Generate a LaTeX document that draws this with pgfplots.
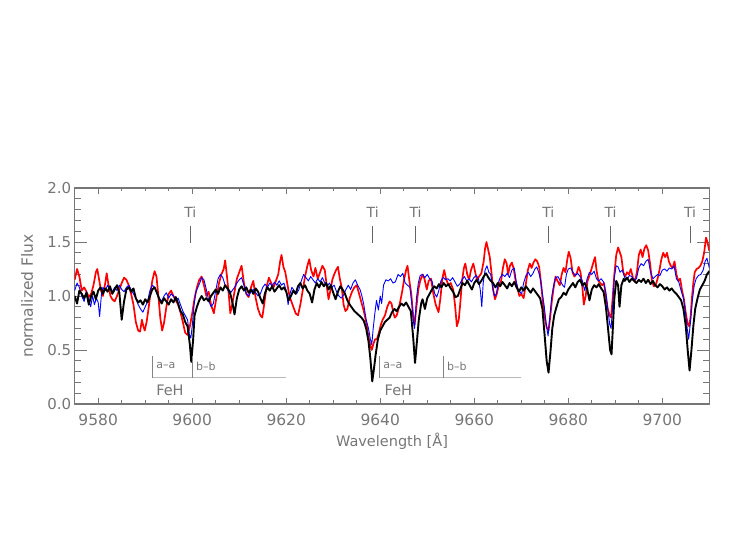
\documentclass[border=0pt]{standalone}
\usepackage{fontspec}
\setmainfont{DejaVu Sans}
\usepackage{pgfplots}
\pgfplotsset{compat=1.18}
\definecolor{axgray}{RGB}{118,118,118}
\definecolor{fehgray}{RGB}{185,185,185}
\definecolor{tigray}{RGB}{100,100,100}
\begin{document}
\begin{tikzpicture}
\path[use as bounding box] (0pt,0pt) rectangle (747pt,540pt);
% ---- y-axis ticks (long ticks) ----
\begin{axis}[
  at={(74.7pt,136pt)}, anchor=south west,
  width=634.6pt, height=216pt, scale only axis,
  xmin=9575, xmax=9710, ymin=0, ymax=2,
  xtick=\empty,
  ytick={0,0.5,1,1.5,2}, minor y tick num=4,
  major tick length=12.5pt, minor tick length=6.5pt,
  axis line style={draw=axgray, line width=1.1pt},
  tick style={draw=axgray, line width=0.8pt},
  tick label style={font=\fontsize{15}{18}\selectfont, text=axgray},
  yticklabel style={/pgf/number format/.cd,fixed,fixed zerofill,precision=1,assume math mode=true},
  ylabel={normalized Flux},
  ylabel style={at={(axis description cs:-0.0752,0.5)}, anchor=center, font=\fontsize{15.5}{18}\selectfont, text=axgray},
]
\end{axis}
% ---- data axis with x ticks ----
\begin{axis}[
  at={(74.7pt,136pt)}, anchor=south west,
  width=634.6pt, height=216pt, scale only axis,
  xmin=9575, xmax=9710, ymin=0, ymax=2,
  ytick=\empty,
  xtick={9580,9600,...,9700}, minor x tick num=3,
  major tick length=6pt, minor tick length=3.5pt,
  axis line style={draw=axgray, line width=1.1pt},
  tick style={draw=axgray, line width=0.8pt},
  tick label style={font=\fontsize{15.5}{18}\selectfont, text=axgray},
  xticklabel style={yshift=-6pt,/pgf/number format/.cd,1000 sep={},assume math mode=true},
  xlabel={Wavelength [Å]},
  xlabel style={at={(axis description cs:0.5,-0.171)}, anchor=center, font=\fontsize{14.5}{17}\selectfont, text=axgray},
]
% red
\addplot[red, line width=1.7pt, line join=round] coordinates {
(9575.0,1.15)(9575.5,1.25)(9576.0,1.18)(9576.5,1.05)(9577.0,1.08)(9577.5,1.04)(9578.0,0.99)(9578.5,1.02)(9579.0,1.10)(9579.5,1.22)
(9579.8,1.25)(9580.2,1.15)(9580.6,1.05)(9581.0,1.00)(9581.5,1.12)(9581.8,1.21)(9582.2,1.10)(9582.6,1.00)(9583.0,0.97)(9583.5,0.95)
(9584.0,1.00)(9584.5,1.06)(9585.0,1.12)(9585.5,1.17)(9586.0,1.15)(9586.5,1.10)(9587.0,1.02)(9587.5,0.92)(9588.0,0.76)(9588.5,0.68)
(9588.9,0.67)(9589.3,0.78)(9589.6,0.72)(9589.9,0.68)(9590.3,0.76)(9590.7,0.88)(9591.1,1.02)(9591.5,1.14)(9592.0,1.23)(9592.4,1.18)
(9592.8,1.00)(9593.2,0.80)(9593.6,0.68)(9594.0,0.75)(9594.5,0.90)(9595.0,1.02)(9595.5,1.05)(9596.0,1.00)(9596.5,0.96)(9597.0,0.92)
(9597.5,0.85)(9598.0,0.76)(9598.5,0.66)(9599.0,0.64)(9599.5,0.72)(9600.0,0.84)(9600.5,0.98)(9601.0,1.08)(9601.5,1.15)(9602.0,1.18)
(9602.5,1.10)(9603.0,1.00)(9603.5,1.04)(9604.0,0.92)(9604.6,0.84)(9605.2,1.00)(9605.7,1.12)(9606.2,1.20)(9606.7,1.25)(9607.0,1.33)
(9607.4,1.18)(9607.8,1.00)(9608.1,0.84)(9608.5,0.92)(9609.0,1.04)(9609.5,1.16)(9610.0,1.22)(9610.5,1.28)(9611.0,1.12)(9611.5,1.02)
(9612.0,0.99)(9612.5,1.08)(9613.0,1.14)(9613.5,0.98)(9614.0,0.88)(9614.5,0.82)(9614.9,0.80)(9615.3,0.92)(9615.8,1.08)(9616.3,1.17)
(9616.8,1.12)(9617.3,1.08)(9617.8,1.14)(9618.3,1.20)(9618.7,1.32)(9619.0,1.38)(9619.4,1.27)(9619.8,1.22)(9620.2,1.12)(9620.6,1.02)
(9621.0,0.96)(9621.5,0.90)(9622.0,0.84)(9622.5,0.82)(9623.0,0.92)(9623.5,1.05)(9624.0,1.18)(9624.5,1.28)(9624.9,1.34)(9625.3,1.24)
(9625.8,1.18)(9626.2,1.26)(9626.7,1.16)(9627.2,1.22)(9627.7,1.28)(9628.2,1.24)(9628.6,1.10)(9629.0,0.97)(9629.4,1.05)(9629.8,1.15)
(9630.2,1.20)(9630.6,1.24)(9631.0,1.27)(9631.4,1.16)(9631.8,1.08)(9632.2,0.92)(9632.6,0.86)(9633.0,0.88)(9633.5,0.98)(9634.0,1.04)
(9634.5,1.08)(9635.0,1.10)(9635.5,1.02)(9636.0,0.94)(9636.5,0.86)(9637.0,0.76)(9637.5,0.62)(9637.9,0.54)(9638.2,0.50)(9638.5,0.55)
(9638.9,0.60)(9639.3,0.60)(9639.7,0.66)(9640.1,0.73)(9640.5,0.78)(9641.0,0.82)(9641.5,0.90)(9642.0,0.95)(9642.4,0.93)(9642.8,0.84)
(9643.1,0.80)(9643.5,0.82)(9643.9,0.88)(9644.3,0.96)(9644.7,1.05)(9645.1,1.16)(9645.5,1.24)(9645.8,1.28)(9646.2,1.14)(9646.6,1.02)
(9647.0,0.82)(9647.3,0.73)(9647.7,0.90)(9648.1,1.06)(9648.5,1.14)(9649.0,1.20)(9649.4,1.16)(9649.9,1.06)(9650.3,1.14)(9650.8,1.16)
(9651.3,1.02)(9651.8,0.92)(9652.4,0.85)(9652.8,0.98)(9653.2,1.16)(9653.6,1.24)(9654.0,1.16)(9654.5,1.10)(9655.0,1.12)(9655.5,1.06)
(9655.9,0.92)(9656.3,0.72)(9656.7,0.78)(9657.0,0.92)(9657.4,1.14)(9657.8,1.26)(9658.1,1.30)(9658.5,1.20)(9658.9,1.15)(9659.3,1.24)
(9659.8,1.30)(9660.2,1.22)(9660.6,1.14)(9661.0,1.18)(9661.5,1.21)(9662.0,1.32)(9662.3,1.44)(9662.6,1.50)(9663.0,1.42)(9663.3,1.36)
(9663.7,1.20)(9664.0,1.06)(9664.4,0.97)(9664.8,1.02)(9665.2,1.10)(9665.7,1.14)(9666.1,1.26)(9666.5,1.34)(9666.9,1.30)(9667.2,1.20)
(9667.6,1.28)(9668.0,1.31)(9668.4,1.25)(9668.8,1.14)(9669.2,1.07)(9669.6,1.00)(9670.0,1.02)(9670.5,0.98)(9671.0,1.12)(9671.4,1.24)
(9671.8,1.30)(9672.2,1.26)(9672.6,1.31)(9673.0,1.34)(9673.4,1.32)(9673.8,1.27)(9674.2,1.12)(9674.6,0.94)(9675.0,0.80)(9675.4,0.71)
(9675.8,0.68)(9676.1,0.78)(9676.5,0.95)(9676.9,1.08)(9677.3,1.18)(9677.7,1.14)(9678.2,1.10)(9678.6,1.20)(9679.0,1.26)(9679.4,1.22)
(9679.8,1.34)(9680.1,1.41)(9680.5,1.35)(9680.9,1.22)(9681.3,1.18)(9681.8,1.21)(9682.2,1.27)(9682.6,1.22)(9683.0,1.08)(9683.3,0.92)
(9683.7,1.00)(9684.1,1.14)(9684.6,1.20)(9685.0,1.26)(9685.4,1.32)(9685.7,1.36)(9686.0,1.24)(9686.4,1.14)(9686.8,1.12)(9687.2,1.10)
(9687.6,1.12)(9688.0,1.00)(9688.4,0.88)(9688.8,0.82)(9689.1,0.80)(9689.4,0.96)(9689.8,1.20)(9690.2,1.38)(9690.6,1.45)(9691.0,1.40)
(9691.3,1.36)(9691.7,1.22)(9692.1,1.18)(9692.5,1.22)(9692.9,1.20)(9693.3,1.25)(9693.8,1.16)(9694.2,1.14)(9694.6,1.22)(9695.0,1.38)
(9695.4,1.43)(9695.8,1.36)(9696.2,1.44)(9696.6,1.47)(9697.0,1.42)(9697.4,1.30)(9697.8,1.14)(9698.2,1.09)(9698.6,1.10)(9699.0,1.16)
(9699.4,1.24)(9699.8,1.34)(9700.2,1.40)(9700.6,1.36)(9701.0,1.40)(9701.4,1.32)(9701.8,1.28)(9702.2,1.26)(9702.6,1.32)(9703.0,1.20)
(9703.4,1.14)(9703.8,1.16)(9704.2,1.05)(9704.6,0.97)(9705.0,0.84)(9705.4,0.74)(9705.7,0.72)(9706.0,0.80)(9706.3,0.98)(9706.6,1.12)
(9706.9,1.22)(9707.3,1.25)(9707.7,1.26)(9708.1,1.28)(9708.5,1.32)(9708.9,1.40)(9709.3,1.54)(9709.6,1.50)(9710.0,1.42)
};
% blue
\addplot[blue, line width=0.9pt, line join=round] coordinates {
(9575.0,1.05)(9575.5,1.12)(9576.0,1.08)(9576.5,1.00)(9577.0,0.95)(9577.5,1.04)(9578.0,0.96)(9578.4,0.90)(9578.8,1.00)(9579.2,0.92)
(9579.6,0.98)(9580.0,0.94)(9580.3,0.81)(9580.7,1.02)(9581.0,1.08)(9581.5,1.05)(9582.0,1.10)(9582.5,1.06)(9583.0,1.04)(9583.5,1.08)
(9584.0,1.05)(9584.5,1.10)(9585.0,1.06)(9585.5,1.04)(9586.0,1.08)(9586.5,1.10)(9587.0,1.06)(9587.5,1.02)(9588.0,0.98)(9588.5,0.92)
(9589.0,0.88)(9589.5,0.85)(9590.0,0.90)(9590.5,0.95)(9591.0,1.05)(9591.5,1.10)(9592.0,1.08)(9592.5,1.02)(9593.0,0.98)(9593.5,0.95)
(9594.0,1.00)(9594.5,1.03)(9595.0,0.98)(9595.5,1.02)(9596.0,1.00)(9596.5,0.96)(9597.0,0.98)(9597.5,0.92)(9598.0,0.86)(9598.5,0.82)
(9599.0,0.78)(9599.4,0.64)(9599.7,0.61)(9600.0,0.72)(9600.4,0.92)(9600.8,1.04)(9601.2,1.08)(9601.6,1.12)(9602.0,1.17)(9602.5,1.15)
(9603.0,1.06)(9603.5,0.96)(9604.0,0.90)(9604.5,0.93)(9605.0,1.05)(9605.5,1.16)(9606.0,1.20)(9606.5,1.17)(9607.0,1.10)(9607.5,1.06)
(9608.0,1.02)(9608.5,1.05)(9609.0,1.08)(9609.5,1.12)(9610.0,1.15)(9610.5,1.17)(9611.0,1.10)(9611.5,1.02)(9612.0,1.00)(9612.5,1.04)
(9613.0,1.06)(9613.5,1.03)(9614.0,1.00)(9614.5,1.02)(9615.0,1.08)(9615.5,1.11)(9616.0,1.08)(9616.5,1.12)(9617.0,1.09)(9617.5,1.13)
(9618.0,1.10)(9618.5,1.14)(9619.0,1.10)(9619.5,1.12)(9620.0,1.05)(9620.4,0.92)(9620.8,1.02)(9621.2,1.08)(9621.7,1.05)(9622.2,1.02)
(9622.7,1.06)(9623.2,1.14)(9623.7,1.20)(9624.2,1.17)(9624.7,1.14)(9625.2,1.18)(9625.7,1.15)(9626.2,1.12)(9626.7,1.16)(9627.2,1.13)
(9627.7,1.17)(9628.2,1.12)(9628.7,1.09)(9629.2,1.12)(9629.7,1.08)(9630.2,1.10)(9630.7,1.04)(9631.2,1.00)(9631.7,0.98)(9632.2,1.01)
(9632.7,1.06)(9633.2,1.10)(9633.7,1.06)(9634.2,1.12)(9634.7,1.15)(9635.2,1.10)(9635.7,1.06)(9636.1,1.00)(9636.5,0.92)(9637.0,0.78)
(9637.5,0.70)(9637.9,0.60)(9638.2,0.55)(9638.5,0.70)(9638.8,0.82)(9639.2,0.96)(9639.6,0.87)(9640.0,1.00)(9640.3,0.93)(9640.7,1.10)
(9641.2,1.15)(9641.7,1.14)(9642.2,1.16)(9642.7,1.12)(9643.2,1.13)(9643.8,1.20)(9644.3,1.18)(9644.8,1.21)(9645.3,1.12)(9645.8,1.10)
(9646.3,1.08)(9646.7,0.94)(9647.0,0.78)(9647.3,0.70)(9647.7,0.98)(9648.1,1.12)(9648.5,1.19)(9649.0,1.20)(9649.5,1.17)(9650.0,1.20)
(9650.5,1.16)(9651.0,1.14)(9651.6,1.02)(9652.0,0.99)(9652.4,1.04)(9652.9,1.14)(9653.4,1.17)(9653.9,1.15)(9654.4,1.16)(9654.9,1.14)
(9655.4,1.17)(9655.9,1.13)(9656.4,1.09)(9656.9,1.11)(9657.4,1.15)(9657.9,1.18)(9658.4,1.14)(9658.9,1.16)(9659.4,1.13)(9659.9,1.17)
(9660.4,1.19)(9660.9,1.16)(9661.3,1.05)(9661.6,0.90)(9661.9,1.12)(9662.3,1.24)(9662.7,1.28)(9663.1,1.22)(9663.5,1.20)(9663.9,1.08)
(9664.3,1.00)(9664.7,1.02)(9665.1,1.12)(9665.5,1.17)(9666.0,1.20)(9666.5,1.18)(9667.0,1.21)(9667.5,1.17)(9668.0,1.24)(9668.5,1.26)
(9668.9,1.14)(9669.3,1.06)(9669.7,1.04)(9670.1,1.02)(9670.5,1.12)(9671.0,1.19)(9671.5,1.22)(9672.0,1.18)(9672.5,1.21)(9672.9,1.25)
(9673.3,1.27)(9673.7,1.22)(9674.1,1.15)(9674.5,1.02)(9674.9,0.90)(9675.3,0.74)(9675.7,0.63)(9676.1,0.82)(9676.5,1.00)(9676.9,1.10)
(9677.3,1.17)(9677.8,1.18)(9678.3,1.14)(9678.8,1.10)(9679.2,1.08)(9679.6,1.20)(9680.0,1.25)(9680.5,1.26)(9681.0,1.22)(9681.5,1.19)
(9682.0,1.21)(9682.5,1.18)(9683.0,1.14)(9683.5,1.05)(9684.0,1.16)(9684.5,1.22)(9685.0,1.20)(9685.5,1.23)(9686.0,1.16)(9686.5,1.14)
(9687.0,1.16)(9687.5,1.13)(9688.0,1.03)(9688.4,0.88)(9688.8,0.74)(9689.1,0.70)(9689.4,0.88)(9689.8,1.18)(9690.2,1.28)(9690.6,1.27)
(9691.0,1.22)(9691.5,1.24)(9692.0,1.17)(9692.5,1.15)(9693.0,1.19)(9693.5,1.18)(9694.0,1.15)(9694.5,1.16)(9695.0,1.26)(9695.5,1.30)
(9696.0,1.28)(9696.5,1.32)(9697.0,1.34)(9697.5,1.22)(9698.0,1.16)(9698.5,1.18)(9699.0,1.20)(9699.5,1.19)(9700.0,1.24)(9700.5,1.25)
(9701.0,1.23)(9701.5,1.26)(9702.0,1.25)(9702.5,1.28)(9703.0,1.16)(9703.5,1.13)(9704.0,1.05)(9704.5,0.98)(9705.0,0.82)(9705.3,0.70)
(9705.6,0.60)(9706.0,0.76)(9706.4,0.96)(9706.8,1.10)(9707.2,1.16)(9707.7,1.19)(9708.2,1.20)(9708.7,1.24)(9709.1,1.32)(9709.5,1.35)
(9710.0,1.26)
};
% black
\addplot[black, line width=1.9pt, line join=round] coordinates {
(9575.0,1.00)(9575.5,0.93)(9576.0,1.05)(9576.5,1.02)(9577.0,0.98)(9577.5,1.03)(9578.0,0.92)(9578.5,1.00)(9579.0,1.04)(9579.5,0.97)
(9580.0,1.05)(9580.5,1.08)(9581.0,1.02)(9581.5,1.07)(9582.0,1.04)(9582.5,1.09)(9583.0,1.02)(9583.5,1.06)(9584.0,1.10)(9584.5,1.03)
(9585.0,0.78)(9585.5,0.95)(9586.0,1.06)(9586.5,1.08)(9587.0,1.04)(9587.5,1.07)(9588.0,0.98)(9588.5,0.94)(9589.0,0.96)(9589.5,0.92)
(9590.0,0.97)(9590.5,0.94)(9591.0,1.00)(9591.5,1.06)(9592.0,1.08)(9592.5,1.03)(9593.0,0.97)(9593.5,0.93)(9594.0,0.98)(9594.5,0.95)
(9595.0,0.92)(9595.5,0.97)(9596.0,0.94)(9596.5,0.99)(9597.0,0.93)(9597.5,0.86)(9598.0,0.83)(9598.5,0.76)(9599.0,0.72)(9599.5,0.55)
(9599.8,0.39)(9600.2,0.60)(9600.5,0.82)(9601.0,0.90)(9601.5,0.96)(9602.0,1.00)(9602.5,0.96)(9603.0,0.98)(9603.5,0.95)(9604.0,1.00)
(9604.5,1.03)(9605.0,1.06)(9605.5,1.02)(9606.0,1.08)(9606.5,1.05)(9607.0,1.10)(9607.5,1.07)(9608.0,1.04)(9608.5,0.95)(9609.0,0.83)
(9609.5,0.98)(9610.0,1.06)(9610.5,1.09)(9611.0,1.05)(9611.5,1.08)(9612.0,1.03)(9612.5,1.06)(9613.0,1.02)(9613.5,1.07)(9614.0,1.04)
(9614.5,0.98)(9615.0,0.93)(9615.5,1.03)(9616.0,1.08)(9616.5,1.05)(9617.0,1.09)(9617.5,1.04)(9618.0,1.07)(9618.5,1.10)(9619.0,1.06)
(9619.5,1.08)(9620.0,1.04)(9620.5,0.96)(9621.0,1.00)(9621.5,1.05)(9622.0,1.02)(9622.5,1.09)(9623.0,1.12)(9623.5,1.07)(9624.0,1.10)
(9624.5,1.05)(9625.0,1.02)(9625.5,0.94)(9626.0,1.06)(9626.5,1.12)(9627.0,1.08)(9627.5,1.13)(9628.0,1.09)(9628.5,1.12)(9629.0,1.06)
(9629.5,1.10)(9630.0,1.03)(9630.5,0.97)(9631.0,1.04)(9631.5,1.09)(9632.0,1.06)(9632.5,1.02)(9633.0,0.96)(9633.5,0.92)(9634.0,0.89)
(9634.5,0.86)(9635.0,0.84)(9635.5,0.82)(9636.0,0.80)(9636.5,0.77)(9637.0,0.70)(9637.5,0.58)(9637.9,0.42)(9638.3,0.21)(9638.7,0.34)
(9639.0,0.45)(9639.5,0.60)(9640.0,0.68)(9640.5,0.72)(9641.0,0.76)(9641.5,0.78)(9642.0,0.80)(9642.5,0.85)(9643.0,0.88)(9643.5,0.86)
(9644.0,0.90)(9644.5,0.93)(9645.0,0.91)(9645.5,0.94)(9646.0,0.90)(9646.5,0.86)(9647.0,0.62)(9647.4,0.38)(9647.8,0.58)(9648.2,0.78)
(9648.7,0.93)(9649.0,0.97)(9649.5,0.88)(9650.0,0.98)(9650.5,1.02)(9651.0,1.06)(9651.5,1.09)(9652.0,1.07)(9652.5,1.11)(9653.0,1.08)
(9653.5,1.12)(9654.0,1.09)(9654.5,1.11)(9655.0,1.07)(9655.5,1.04)(9656.0,0.99)(9656.5,1.00)(9657.0,1.06)(9657.5,1.12)(9658.0,1.10)
(9658.5,1.14)(9659.0,1.10)(9659.5,1.06)(9660.0,1.12)(9660.5,1.15)(9661.0,1.11)(9661.5,1.14)(9662.0,1.18)(9662.5,1.21)(9663.0,1.17)
(9663.5,1.14)(9664.0,1.12)(9664.5,1.08)(9665.0,1.12)(9665.5,1.09)(9666.0,1.13)(9666.5,1.10)(9667.0,1.07)(9667.5,1.12)(9668.0,1.09)
(9668.5,1.13)(9669.0,1.08)(9669.5,1.04)(9670.0,1.08)(9670.5,1.05)(9671.0,1.09)(9671.5,1.06)(9672.0,1.03)(9672.5,1.07)(9673.0,1.04)
(9673.5,1.01)(9674.0,0.98)(9674.5,0.88)(9675.0,0.62)(9675.4,0.40)(9675.8,0.29)(9676.2,0.48)(9676.6,0.70)(9677.0,0.82)(9677.5,0.90)
(9678.0,0.97)(9678.5,0.99)(9679.0,1.03)(9679.5,1.01)(9680.0,1.06)(9680.5,1.09)(9681.0,1.12)(9681.5,1.08)(9682.0,1.13)(9682.5,1.15)
(9683.0,1.10)(9683.5,1.12)(9684.0,1.07)(9684.5,0.96)(9685.0,1.06)(9685.5,1.10)(9686.0,1.08)(9686.5,1.11)(9687.0,1.07)(9687.5,1.04)
(9688.0,0.90)(9688.5,0.68)(9688.9,0.50)(9689.2,0.46)(9689.5,0.72)(9689.8,0.98)(9690.2,1.14)(9690.6,1.10)(9690.9,0.90)(9691.3,1.10)
(9691.8,1.16)(9692.0,1.14)(9692.5,1.17)(9693.0,1.13)(9693.5,1.16)(9694.0,1.14)(9694.5,1.12)(9695.0,1.15)(9695.5,1.13)(9696.0,1.16)
(9696.5,1.12)(9697.0,1.15)(9697.5,1.11)(9698.0,1.14)(9698.5,1.10)(9699.0,1.08)(9699.5,1.11)(9700.0,1.09)(9700.5,1.06)(9701.0,1.08)
(9701.5,1.05)(9702.0,1.07)(9702.5,1.04)(9703.0,1.02)(9703.5,0.99)(9704.0,0.96)(9704.5,0.88)(9705.0,0.72)(9705.4,0.50)(9705.8,0.31)
(9706.2,0.50)(9706.6,0.72)(9707.0,0.88)(9707.5,0.98)(9708.0,1.06)(9708.5,1.10)(9709.0,1.14)(9709.5,1.20)(9710.0,1.23)
};
% Ti markers
\foreach \tx in {9599.6,9638.4,9647.5,9675.75,9689.0,9705.9} {
  \edef\temp{\noexpand\draw[tigray, line width=0.7pt] (axis cs:\tx,1.49) -- (axis cs:\tx,1.65);
  \noexpand\node[text=axgray, font=\noexpand\fontsize{14}{16}\noexpand\selectfont] at (axis cs:\tx,1.78) {Ti};}
  \temp
}
% FeH bands
\draw[fehgray, line width=1.4pt] (axis cs:9591.5,0.245) -- (axis cs:9620,0.245);
\draw[tigray!80, line width=0.6pt] (axis cs:9591.5,0.245) -- (axis cs:9591.5,0.44);
\draw[tigray!80, line width=0.6pt] (axis cs:9600.0,0.245) -- (axis cs:9600.0,0.44);
\node[anchor=west, text=axgray, font=\fontsize{11}{13}\selectfont] at (axis cs:9591.6,0.352) {a–a};
\node[anchor=west, text=axgray, font=\fontsize{11}{13}\selectfont] at (axis cs:9600.1,0.352) {b–b};
\node[anchor=west, text=axgray, font=\fontsize{14.5}{16}\selectfont] at (axis cs:9591.6,0.13) {FeH};
\draw[fehgray, line width=1.4pt] (axis cs:9639.8,0.245) -- (axis cs:9670,0.245);
\draw[tigray!80, line width=0.6pt] (axis cs:9639.8,0.245) -- (axis cs:9639.8,0.44);
\draw[tigray!80, line width=0.6pt] (axis cs:9653.4,0.245) -- (axis cs:9653.4,0.44);
\node[anchor=west, text=axgray, font=\fontsize{11}{13}\selectfont] at (axis cs:9639.9,0.352) {a–a};
\node[anchor=west, text=axgray, font=\fontsize{11}{13}\selectfont] at (axis cs:9653.5,0.352) {b–b};
\node[anchor=west, text=axgray, font=\fontsize{14.5}{16}\selectfont] at (axis cs:9640.2,0.13) {FeH};
\end{axis}
\end{tikzpicture}
\end{document}
